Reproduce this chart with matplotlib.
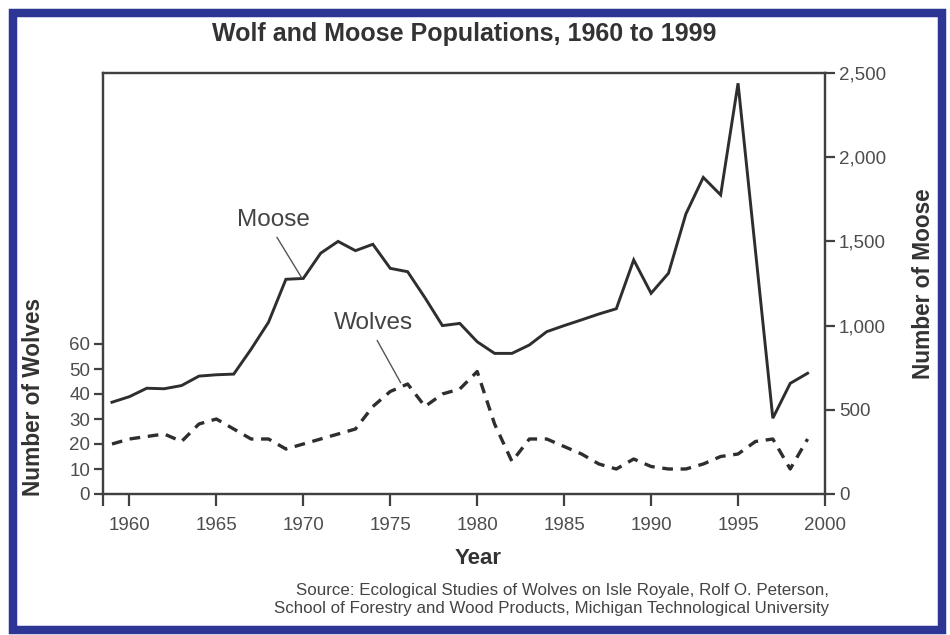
import matplotlib
matplotlib.use('Agg')
import matplotlib.pyplot as plt
from matplotlib.patches import Rectangle
from matplotlib.ticker import FuncFormatter

# data (one value per year)
years = list(range(1959, 2000))
moose = [545, 578, 628, 625, 644, 700, 708, 712, 860, 1020,
         1275, 1280, 1430, 1500, 1445, 1483, 1340, 1320, 1165, 1000,
         1013, 904, 835, 835, 885, 964, 1000, 1034, 1069, 1100,
         1390, 1192, 1311, 1663, 1880, 1776, 2439, 1445, 450, 657,
         717]
wolves = [20, 22, 23, 24, 21, 28, 30, 26, 22, 22,
          18, 20, 22, 24, 26, 35, 41, 44, 35, 40,
          42, 49, 28, 13, 22, 22, 19, 16, 12, 10,
          14, 11, 10, 10, 12, 15, 16, 21, 22, 10,
          22]

year_ticks = [1960, 1965, 1970, 1975, 1980, 1985, 1990, 1995, 2000]
wolf_ticks = [0, 10, 20, 30, 40, 50, 60]
moose_ticks = [0, 500, 1000, 1500, 2000, 2500]

plt.rcParams['font.family'] = ['Liberation Sans', 'DejaVu Sans']

W, H = 950, 635
line_col = '#2e2e2e'
spine_col = '#404040'
tick_col = '#4d4d4d'
head_col = '#333333'

fig = plt.figure(figsize=(W / 100, H / 100), dpi=100)
fig.patch.set_facecolor('white')


def fx(px):
    return px / W


def fy(py):
    return 1 - py / H


# axes box: x 103..825, y 73..494 (pixels)
ax = fig.add_axes([fx(103.3), fy(494), fx(825) - fx(103.3), fy(73) - fy(494)])
ax2 = ax.twinx()

ax.plot(years, wolves, color=line_col, lw=2.4, dashes=(3.2, 2.3),
        dash_capstyle='butt', zorder=3)
ax2.plot(years, moose, color=line_col, lw=2.1, solid_joinstyle='miter', zorder=3)

ax.set_xlim(1958.5, 2000)
ax.set_ylim(0, 168.4)
ax2.set_ylim(0, 2500)

ax.set_xticks(year_ticks)
ax.set_yticks(wolf_ticks)
ax2.set_yticks(moose_ticks)
ax2.yaxis.set_major_formatter(FuncFormatter(lambda v, p: f'{int(v):,}'))

# small tick below the left corner, like the original
ax.set_xticks([1958.5], minor=True)

for a in (ax, ax2):
    for s in a.spines.values():
        s.set_color(spine_col)
        s.set_linewidth(1.6)

ax.tick_params(axis='x', which='both', direction='out', length=8.5, width=1.6,
               color=spine_col, labelsize=13.5, labelcolor=tick_col, pad=8)
ax.tick_params(axis='y', direction='out', length=6.5, width=1.6,
               color=spine_col, labelsize=13.5, labelcolor=tick_col, pad=3)
ax2.tick_params(axis='y', direction='out', length=7, width=1.6,
                color=spine_col, labelsize=13.5, labelcolor=tick_col, pad=3)

# series labels with leader lines
ax2.annotate('Moose', xy=(1969.9, 1285), xytext=(-20.5, 41.5),
             textcoords='offset points', ha='center', va='center',
             fontsize=17.5, color='#444444',
             arrowprops=dict(arrowstyle='-', color='#555555', lw=1.0,
                             shrinkA=3, shrinkB=0, relpos=(0.5, 0)))
ax.annotate('Wolves', xy=(1975.6, 44.5), xytext=(-19.5, 43),
            textcoords='offset points', ha='center', va='center',
            fontsize=17.5, color='#444444',
            arrowprops=dict(arrowstyle='-', color='#555555', lw=1.0,
                            shrinkA=3, shrinkB=0, relpos=(0.5, 0)))

# titles and axis names
fig.text(fx(464), fy(34), 'Wolf and Moose Populations, 1960 to 1999',
         ha='center', va='center', fontsize=18, fontweight='bold', color=head_col)
fig.text(fx(478), fy(558), 'Year', ha='center', va='center',
         fontsize=16, fontweight='bold', color=head_col)
fig.text(fx(34), fy(397), 'Number of Wolves', ha='center', va='center',
         rotation=90, fontsize=16.3, fontweight='bold', color=head_col)
fig.text(fx(923), fy(284), 'Number of Moose', ha='center', va='center',
         rotation=90, fontsize=16.3, fontweight='bold', color=head_col)

fig.text(fx(829), fy(591),
         'Source: Ecological Studies of Wolves on Isle Royale, Rolf O. Peterson,',
         ha='right', va='center', fontsize=12.2, color='#444444')
fig.text(fx(829), fy(608),
         'School of Forestry and Wood Products, Michigan Technological University',
         ha='right', va='center', fontsize=12.2, color='#444444')

# blue frame around the whole picture
fig.add_artist(Rectangle((fx(12.75), fy(629.5)), fx(942) - fx(12.75),
                         fy(12.5) - fy(629.5), transform=fig.transFigure,
                         fill=False, edgecolor='#2d3595', lw=6.1, clip_on=False))

fig.savefig('out.png', dpi=100)
